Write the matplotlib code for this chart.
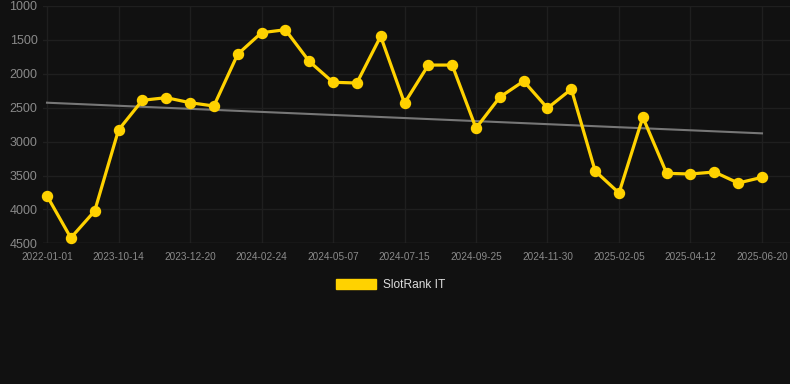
import numpy as np
import matplotlib.pyplot as plt
from matplotlib.patches import Patch

plt.rcParams['font.family'] = ['Liberation Sans', 'DejaVu Sans']

# 排名数据（数值越小越好，y轴倒置）
rank = [3800, 4420, 4024, 2829, 2391, 2352, 2426, 2475, 1712, 1394,
        1350, 1816, 2125, 2136, 1447, 2433, 1871, 1871, 2802, 2344,
        2108, 2507, 2226, 3434, 3758, 2640, 3468, 3478, 3448, 3611, 3527]
tick_labels = ['2022-01-01', '2023-10-14', '2023-12-20', '2024-02-24', '2024-05-07',
               '2024-07-15', '2024-09-25', '2024-11-30', '2025-02-05', '2025-04-12',
               '2025-06-20']
series_name = 'SlotRank IT'

bg = '#111111'
x = np.arange(len(rank))

fig = plt.figure(figsize=(7.9, 3.84), dpi=100, facecolor=bg)
ax = fig.add_axes([43/790, 1-243.3/384, 1-43/790, (243.3-6)/384])
ax.set_facecolor(bg)

## 趋势线（线性回归）
k, b = np.polyfit(x, rank, 1)
ax.plot(x, k*x+b, color='#777777', linewidth=1.5, zorder=2)

## 主折线
ax.plot(x, rank, color='#FFD200', linewidth=2.3, marker='o', markersize=7.2,
        zorder=3, clip_on=False)

ax.set_ylim(4500, 1000)
ax.set_yticks(range(1000, 5000, 500))
ax.set_xlim(-0.168, 31.175)
ax.set_xticks(x[::3])
ax.set_xticklabels(tick_labels)

ax.grid(True, color='#1f1f1f', linewidth=1)
ax.set_axisbelow(True)
for s in ax.spines.values():
    s.set_visible(False)
ax.axhline(4500, color='#2a2a2a', linewidth=1, zorder=1)
ax.tick_params(axis='y', length=0, pad=4, labelsize=9, labelcolor='#8a8a8a')
ax.tick_params(axis='x', length=0, pad=6, labelsize=7.2, labelcolor='#8a8a8a')

fig.legend(handles=[Patch(facecolor='#FFD200', edgecolor='#FFD200')], labels=[series_name],
           loc='center', bbox_to_anchor=(0.494, 0.258), frameon=False,
           handlelength=3.4, handleheight=0.95, handletextpad=0.55,
           fontsize=8.6, labelcolor='#dddddd')

fig.savefig('out.png', dpi=100, facecolor=bg)
